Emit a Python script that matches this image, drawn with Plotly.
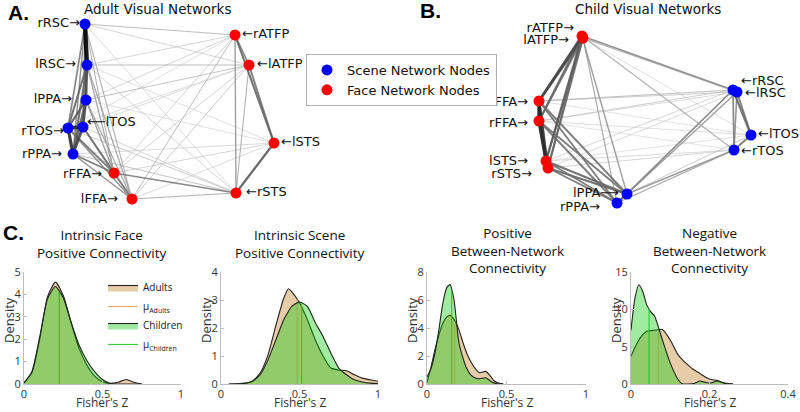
import numpy as np
import plotly.graph_objects as go

# ---------------- Network data ----------------
scene_nodes = ["rRSC", "lRSC", "lPPA", "rPPA", "rTOS", "lTOS"]
face_nodes = ["rFFA", "lFFA", "rATFP", "lATFP", "rSTS", "lSTS"]

# Panel A (adult) node layout coordinates
a_names = ["rRSC", "lRSC", "lPPA", "lTOS", "rTOS", "rPPA", "rFFA", "lFFA", "rATFP", "lATFP", "lSTS", "rSTS"]
a_x = [85, 87, 86, 83, 68, 73, 114, 132, 235, 249, 274, 236]
a_y = [24, 65, 100, 127, 128, 154, 173, 199, 35, 65, 143, 193]

# Panel B (child) node layout coordinates
b_names = ["rATFP", "lATFP", "lFFA", "rFFA", "lSTS", "rSTS", "lPPA", "rPPA", "rRSC", "lRSC", "lTOS", "rTOS"]
b_x = [582, 583, 539, 539, 546, 548, 627, 617, 733, 737, 751, 734]
b_y = [36, 38, 101, 121, 161, 168, 194, 203, 90, 92, 135, 150]

a_edges = [
    ("rRSC", "lRSC", 1.0),
    ("rRSC", "lPPA", 0.45), ("rRSC", "lTOS", 0.4), ("rRSC", "rTOS", 0.45), ("rRSC", "rPPA", 0.4),
    ("lRSC", "lPPA", 0.65), ("lRSC", "lTOS", 0.6), ("lRSC", "rTOS", 0.55), ("lRSC", "rPPA", 0.55),
    ("lPPA", "lTOS", 0.65), ("lPPA", "rTOS", 0.6), ("lPPA", "rPPA", 0.6),
    ("lTOS", "rTOS", 0.85), ("lTOS", "rPPA", 0.7), ("rTOS", "rPPA", 0.8),
    ("rFFA", "rTOS", 0.5), ("rFFA", "rPPA", 0.5), ("rFFA", "lTOS", 0.5), ("rFFA", "lPPA", 0.35),
    ("rFFA", "lRSC", 0.3), ("rFFA", "rRSC", 0.25),
    ("lFFA", "rTOS", 0.4), ("lFFA", "rPPA", 0.4), ("lFFA", "lTOS", 0.4), ("lFFA", "lPPA", 0.3),
    ("lFFA", "lRSC", 0.3), ("lFFA", "rRSC", 0.25), ("rFFA", "lFFA", 0.45),
    ("rATFP", "lATFP", 0.45), ("rATFP", "lSTS", 0.55), ("lATFP", "lSTS", 0.5), ("rATFP", "rSTS", 0.35),
    ("lATFP", "rSTS", 0.25), ("lSTS", "rSTS", 0.6),
    ("rFFA", "rSTS", 0.45), ("lFFA", "rSTS", 0.25), ("lFFA", "rATFP", 0.2), ("lFFA", "lATFP", 0.15),
    ("rFFA", "lSTS", 0.12), ("lFFA", "lSTS", 0.1), ("rFFA", "rATFP", 0.12), ("rFFA", "lATFP", 0.12),
    ("rRSC", "rATFP", 0.2), ("rRSC", "lATFP", 0.12), ("lRSC", "rATFP", 0.12), ("lRSC", "lATFP", 0.2),
    ("lPPA", "rATFP", 0.12), ("lPPA", "lATFP", 0.18), ("lTOS", "lATFP", 0.1), ("rTOS", "lATFP", 0.08),
    ("rRSC", "rSTS", 0.1), ("lRSC", "rSTS", 0.12), ("rTOS", "rSTS", 0.15), ("rPPA", "rSTS", 0.18),
    ("lTOS", "rSTS", 0.12), ("lPPA", "lSTS", 0.08), ("rPPA", "lSTS", 0.1), ("lRSC", "lSTS", 0.08),
    ("rTOS", "rATFP", 0.08),
]

b_edges = [
    ("rATFP", "lFFA", 0.7), ("lATFP", "lFFA", 0.6), ("rATFP", "rFFA", 0.55), ("lATFP", "rFFA", 0.5),
    ("rATFP", "lSTS", 0.6), ("lATFP", "rSTS", 0.55), ("rATFP", "rSTS", 0.45), ("lATFP", "lSTS", 0.45),
    ("lFFA", "rFFA", 0.85), ("lFFA", "lSTS", 0.75), ("lFFA", "rSTS", 0.65), ("rFFA", "lSTS", 0.8),
    ("rFFA", "rSTS", 0.75), ("lSTS", "rSTS", 0.8), ("rATFP", "lATFP", 0.5),
    ("lFFA", "lPPA", 0.5), ("lFFA", "rPPA", 0.5), ("rFFA", "lPPA", 0.5), ("rFFA", "rPPA", 0.5),
    ("lSTS", "lPPA", 0.55), ("lSTS", "rPPA", 0.5), ("rSTS", "lPPA", 0.55), ("rSTS", "rPPA", 0.5),
    ("rATFP", "lPPA", 0.35), ("lATFP", "rPPA", 0.3), ("lPPA", "rPPA", 0.6),
    ("lPPA", "rRSC", 0.4), ("lPPA", "lRSC", 0.35), ("rPPA", "rRSC", 0.25), ("lPPA", "rTOS", 0.35),
    ("rPPA", "rTOS", 0.3), ("lPPA", "lTOS", 0.15),
    ("rRSC", "lRSC", 0.8), ("rRSC", "lTOS", 0.55), ("lRSC", "lTOS", 0.5), ("rRSC", "rTOS", 0.45),
    ("lRSC", "rTOS", 0.4), ("lTOS", "rTOS", 0.5),
    ("rATFP", "rRSC", 0.4), ("lATFP", "lRSC", 0.25), ("rATFP", "rTOS", 0.25), ("lATFP", "lTOS", 0.08),
    ("lFFA", "rRSC", 0.2), ("lFFA", "lRSC", 0.15), ("rFFA", "rRSC", 0.15), ("rFFA", "lRSC", 0.1),
    ("lSTS", "rRSC", 0.12), ("rSTS", "lRSC", 0.1), ("rFFA", "lTOS", 0.08), ("lSTS", "rTOS", 0.1),
    ("rSTS", "rTOS", 0.12), ("lSTS", "lTOS", 0.06), ("rFFA", "rTOS", 0.06), ("lFFA", "lTOS", 0.06),
]

# Label text and offsets (style)
a_labels = {
    "rRSC": ("rRSC→", "L", -5, 0), "lRSC": ("lRSC→", "L", -11, 0), "lPPA": ("lPPA→", "L", -14, 0),
    "rTOS": ("rTOS→", "L", -4, 4), "rPPA": ("rPPA→", "L", -11, 1), "rFFA": ("rFFA→", "L", -12, 2),
    "lFFA": ("lFFA→", "L", -14, 1), "rATFP": ("←rATFP", "R", 7, 0), "lATFP": ("←lATFP", "R", 8, 0),
    "lSTS": ("←lSTS", "R", 7, 0), "rSTS": ("←rSTS", "R", 10, 0), "lTOS": ("⟵lTOS", "R", 4, -4),
}
b_labels = {
    "rATFP": ("rATFP→", "L", -8, -7), "lATFP": ("lATFP→", "L", -14, 3), "lFFA": ("lFFA→", "L", -11, 2),
    "rFFA": ("rFFA→", "L", -11, 3), "lSTS": ("lSTS→", "L", -18, 1), "rSTS": ("rSTS→", "L", -16, 7),
    "lPPA": ("lPPA⟶", "L", -8, 0), "rPPA": ("rPPA→", "L", -17, 5), "rRSC": ("←rRSC", "R", 8, -8),
    "lRSC": ("←lRSC", "R", 8, 2), "lTOS": ("←lTOS", "R", 7, 0), "rTOS": ("←rTOS", "R", 7, 2),
}

# ---------------- Density data ----------------
p1_x = [0.0, 0.05, 0.1, 0.15, 0.2, 0.25, 0.3, 0.35, 0.4, 0.45, 0.5, 0.55, 0.6, 0.65, 0.7, 0.75]
p1_adults = [0.05, 0.5, 2.0, 3.9, 4.55, 3.95, 2.75, 1.6, 0.85, 0.35, 0.1, 0.03, 0.08, 0.2, 0.08, 0.0]
p1_children = [0.05, 0.55, 2.1, 3.8, 4.35, 3.85, 2.75, 1.75, 1.05, 0.55, 0.2, 0.02, 0.0, 0.0, 0.0, 0.0]
p1_means = [0.225, 0.225]

p2_x = [0.05, 0.1, 0.15, 0.2, 0.25, 0.3, 0.35, 0.4, 0.43, 0.45, 0.5, 0.55, 0.6, 0.65, 0.7, 0.75, 0.8, 0.85, 0.9, 0.95, 1.0]
p2_adults = [0.0, 0.01, 0.03, 0.1, 0.4, 1.05, 2.1, 3.07, 3.4, 3.3, 2.9, 2.3, 1.58, 1.0, 0.57, 0.5, 0.47, 0.33, 0.21, 0.15, 0.1]
p2_children = [0.0, 0.0, 0.02, 0.1, 0.33, 0.87, 1.58, 2.3, 2.6, 2.77, 2.93, 2.77, 2.2, 1.7, 1.1, 0.57, 0.33, 0.15, 0.07, 0.03, 0.02]
p2_means = [0.485, 0.514]

p3_x = [0.0, 0.025, 0.05, 0.075, 0.1, 0.125, 0.145, 0.17, 0.2, 0.225, 0.25, 0.275, 0.3, 0.33, 0.37, 0.4, 0.42, 0.45, 0.48]
p3_adults = [0.1, 1.2, 2.45, 3.5, 4.35, 4.8, 4.9, 4.6, 3.9, 3.0, 2.2, 1.6, 1.15, 0.8, 0.9, 0.55, 0.25, 0.07, 0.0]
p3_children = [0.5, 1.1, 2.2, 3.9, 5.8, 6.9, 7.1, 6.0, 3.0, 1.9, 1.1, 0.65, 0.45, 0.38, 0.45, 0.2, 0.08, 0.0, 0.0]
p3_means = [0.175, 0.155]

p4_x = [0.0, 0.01, 0.02, 0.03, 0.04, 0.05, 0.06, 0.08, 0.1, 0.12, 0.13, 0.14, 0.16, 0.175, 0.18, 0.2, 0.22, 0.24, 0.26]
p4_adults = [3.7, 4.9, 5.9, 6.6, 7.05, 7.15, 7.2, 7.3, 5.9, 3.9, 3.3, 2.8, 1.9, 1.45, 1.25, 0.67, 0.45, 0.13, 0.0]
p4_children = [7.2, 11.5, 13.3, 12.4, 10.6, 9.7, 9.1, 5.9, 2.8, 0.6, 0.05, 0.0, 0.05, 0.4, 0.35, 0.1, 0.4, 0.05, 0.0]
p4_means = [0.07, 0.046]

panel_titles = ["Intrinsic Face<br>Positive Connectivity", "Intrinsic Scene<br>Positive Connectivity",
                "Positive<br>Between-Network<br>Connectivity", "Negative<br>Between-Network<br>Connectivity"]
panel_xranges = [[0, 1], [0, 1], [0, 1], [0, 0.4]]
panel_yranges = [[0, 5], [0, 4], [0, 8], [0, 15]]
panel_xticks = [[0, 0.5, 1], [0, 0.5, 1], [0, 0.5, 1], [0, 0.2, 0.4]]
panel_yticks = [[0, 1, 2, 3, 4, 5], [0, 1, 2, 3, 4], [0, 2, 4, 6, 8], [0, 5, 10, 15]]
x_label = "Fisher's Z"
y_label = "Density"

# ---------------- Figure ----------------
W, H = 800, 412
def px(x): return x / W
def py(y): return 1 - y / H

NET_FONT = "DejaVu Sans"
PLOT_FONT = "Open Sans"
SCENE_C = "#0000ff"
FACE_C = "#ff0000"
ADULT_FILL = "rgba(222,184,135,0.72)"
CHILD_FILL = "rgba(0,200,0,0.37)"
ADULT_LINE = "rgba(222,170,110,0.9)"
CHILD_LINE = "rgba(40,200,40,0.9)"

fig = go.Figure()

def draw_network(names, xs, ys, edges, labels, show_legend):
    pos = {n: (x, y) for n, x, y in zip(names, xs, ys)}
    for n1, n2, w in sorted(edges, key=lambda e: e[2]):
        g = int(228 * (1 - w))
        fig.add_trace(go.Scatter(
            x=[pos[n1][0], pos[n2][0]], y=[pos[n1][1], pos[n2][1]], mode="lines",
            line=dict(color=f"rgb({g},{g},{g})", width=0.7 + 3.6 * w ** 1.6),
            opacity=0.9, hoverinfo="skip", showlegend=False, xaxis="x5", yaxis="y5"))
    for grp, color, lname in [(scene_nodes, SCENE_C, "Scene Network Nodes"),
                              (face_nodes, FACE_C, "Face Network Nodes")]:
        nn = [n for n in names if n in grp]
        fig.add_trace(go.Scatter(
            x=[pos[n][0] for n in nn], y=[pos[n][1] for n in nn], mode="markers",
            marker=dict(color=color, size=11, line=dict(width=0)), name=lname,
            legendgroup=lname, showlegend=show_legend, legend="legend",
            text=nn, hoverinfo="text", xaxis="x5", yaxis="y5"))
    for side in ["L", "R"]:
        nn = [n for n in names if labels[n][1] == side]
        fig.add_trace(go.Scatter(
            x=[pos[n][0] + labels[n][2] for n in nn], y=[pos[n][1] + labels[n][3] for n in nn],
            mode="text", text=[labels[n][0] for n in nn],
            textposition="middle left" if side == "L" else "middle right",
            textfont=dict(family=NET_FONT, size=13, color="#111"),
            hoverinfo="skip", showlegend=False, xaxis="x5", yaxis="y5"))

draw_network(a_names, a_x, a_y, a_edges, a_labels, True)
draw_network(b_names, b_x, b_y, b_edges, b_labels, False)

# Density panels
panels = [(p1_x, p1_adults, p1_children, p1_means), (p2_x, p2_adults, p2_children, p2_means),
          (p3_x, p3_adults, p3_children, p3_means), (p4_x, p4_adults, p4_children, p4_means)]
x_dom_px = [(24, 181), (221, 378), (427, 586), (631, 788)]

for i, (xs, ad, ch, means) in enumerate(panels):
    k = i + 1
    xa = "x" if k == 1 else f"x{k}"
    ya = "y" if k == 1 else f"y{k}"
    leg = (k == 1)
    fig.add_trace(go.Scatter(x=xs, y=ad, mode="lines", fill="tozeroy", fillcolor=ADULT_FILL,
                             line=dict(color="#222", width=1.1, shape="spline", smoothing=0.6),
                             name="Adults", showlegend=leg, legend="legend2", xaxis=xa, yaxis=ya,
                             hoverinfo="skip"))
    fig.add_trace(go.Scatter(x=[means[0], means[0]], y=[0, float(np.interp(means[0], xs, ad))],
                             mode="lines", line=dict(color=ADULT_LINE, width=1.2),
                             name="μ<sub>Adults</sub>", showlegend=leg, legend="legend2",
                             xaxis=xa, yaxis=ya, hoverinfo="skip"))
    fig.add_trace(go.Scatter(x=xs, y=ch, mode="lines", fill="tozeroy", fillcolor=CHILD_FILL,
                             line=dict(color="#222", width=1.1, shape="spline", smoothing=0.6),
                             name="Children", showlegend=leg, legend="legend2", xaxis=xa, yaxis=ya,
                             hoverinfo="skip"))
    fig.add_trace(go.Scatter(x=[means[1], means[1]], y=[0, float(np.interp(means[1], xs, ch))],
                             mode="lines", line=dict(color=CHILD_LINE, width=1.2),
                             name="μ<sub>Children</sub>", showlegend=leg, legend="legend2",
                             xaxis=xa, yaxis=ya, hoverinfo="skip"))

layout = dict(
    width=W, height=H, margin=dict(l=0, r=0, t=0, b=0, pad=0, autoexpand=False),
    paper_bgcolor="white", plot_bgcolor="rgba(0,0,0,0)",
    font=dict(family=PLOT_FONT, color="#222"),
    xaxis5=dict(domain=[0, 1], range=[0, 800], visible=False, anchor="y5", fixedrange=True),
    yaxis5=dict(domain=[py(215), 1], range=[215, 0], visible=False, anchor="x5", fixedrange=True),
    legend=dict(x=px(306), y=py(54), xanchor="left", yanchor="top", bgcolor="white",
                bordercolor="#b0b0b0", borderwidth=1, font=dict(family=NET_FONT, size=13, color="#111"),
                itemwidth=30, tracegroupgap=0),
    legend2=dict(x=px(103), y=py(273), xanchor="left", yanchor="top", bgcolor="rgba(0,0,0,0)",
                 font=dict(family=PLOT_FONT, size=10, color="#222"), itemwidth=30, tracegroupgap=0),
    showlegend=True,
)
for i in range(4):
    k = i + 1
    xk = "xaxis" if k == 1 else f"xaxis{k}"
    yk = "yaxis" if k == 1 else f"yaxis{k}"
    ya_ref = "y" if k == 1 else f"y{k}"
    xa_ref = "x" if k == 1 else f"x{k}"
    common = dict(showline=True, linecolor="#bdbdbd", linewidth=1, ticks="inside", ticklen=3,
                  tickcolor="#bdbdbd", showgrid=False, zeroline=False, fixedrange=True, automargin=False,
                  tickfont=dict(family=PLOT_FONT, size=11, color="#333"))
    layout[xk] = dict(domain=[px(x_dom_px[i][0]), px(x_dom_px[i][1])], range=panel_xranges[i],
                      tickvals=panel_xticks[i], anchor=ya_ref, **common)
    layout[yk] = dict(domain=[py(384), py(272)], range=panel_yranges[i], tickvals=panel_yticks[i],
                      anchor=xa_ref, **common)

fig.update_layout(**layout)

# Axis labels as annotations
for i, (x0, x1) in enumerate(x_dom_px):
    fig.add_annotation(x=px((x0 + x1) / 2), y=py(411.5), xref="paper", yref="paper", text=x_label,
                       showarrow=False, xanchor="center", yanchor="bottom", borderpad=0,
                       font=dict(family=PLOT_FONT, size=12, color="#333"))
    fig.add_annotation(x=px(x0 - 15), y=py(320), xref="paper", yref="paper", text=y_label,
                       showarrow=False, xanchor="center", yanchor="middle", textangle=-90, borderpad=0,
                       font=dict(family=PLOT_FONT, size=13, color="#333"))

# Titles and panel letters
title_centers = [102, 300, 507, 709]
title_bottoms = [257, 257, 272, 272]
for i, t in enumerate(panel_titles):
    fig.add_annotation(x=px(title_centers[i]), y=py(title_bottoms[i] + 7), xref="paper", yref="paper",
                       text=t, showarrow=False, xanchor="center", yanchor="bottom",
                       font=dict(family=PLOT_FONT, size=13.5, color="#111"))
fig.add_annotation(x=px(157), y=py(9), xref="paper", yref="paper", text="Adult Visual Networks",
                   showarrow=False, xanchor="center", yanchor="middle",
                   font=dict(family=NET_FONT, size=13.5, color="#111"))
fig.add_annotation(x=px(648), y=py(9), xref="paper", yref="paper", text="Child Visual Networks",
                   showarrow=False, xanchor="center", yanchor="middle",
                   font=dict(family=NET_FONT, size=13.5, color="#111"))
for txt, x, y in [("A.", 18, 13), ("B.", 431, 11), ("C.", 13, 232)]:
    fig.add_annotation(x=px(x), y=py(y), xref="paper", yref="paper", text=f"<b>{txt}</b>",
                       showarrow=False, xanchor="center", yanchor="middle",
                       font=dict(family="Liberation Sans", size=21, color="#000"))

fig.write_html("out.html", config={"displayModeBar": False},
               post_script="document.body.style.margin='0';")
